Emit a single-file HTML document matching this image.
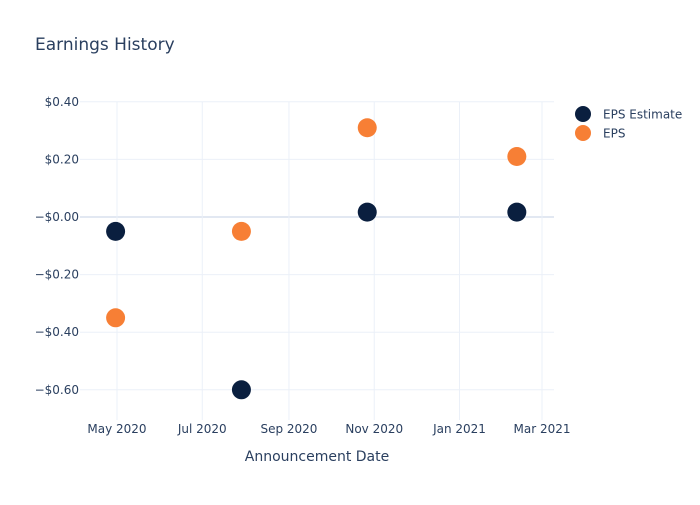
<!DOCTYPE html>
<html><head><meta charset="utf-8"><style>
body{margin:0;background:#fff;font-family:"Liberation Sans","DejaVu Sans",sans-serif;}
svg text{font-family:"DejaVu Sans","Liberation Sans",sans-serif;}
</style></head><body>
<svg id="chart" width="700" height="500">
<text x="35" y="50" font-size="17" fill="#2a3f5f">Earnings History</text>
<g id="grid"></g><g id="marks"></g>
<text x="317" y="461" font-size="14" fill="#2a3f5f" text-anchor="middle">Announcement Date</text>
<g>
<circle cx="583" cy="114" r="8" fill="#0a1f3f"/>
<text x="603" y="118.5" font-size="12" fill="#2a3f5f">EPS Estimate</text>
<circle cx="583" cy="133" r="8" fill="#f77f35"/>
<text x="603" y="137.5" font-size="12" fill="#2a3f5f">EPS</text>
</g>
</svg>
<script>
const dates=["2020-04-30","2020-07-29","2020-10-27","2021-02-11"];
const epsEstimate=[-0.05,-0.60,0.017,0.017];
const eps=[-0.35,-0.05,0.31,0.21];
const yTicks=[0.4,0.2,0,-0.2,-0.4,-0.6];
const yTickLabels=["$0.40","$0.20","−$0.00","−$0.20","−$0.40","−$0.60"];
const xTicks=["2020-05-01","2020-07-01","2020-09-01","2020-11-01","2021-01-01","2021-03-01"];
const xTickLabels=["May 2020","Jul 2020","Sep 2020","Nov 2020","Jan 2021","Mar 2021"];

const NS="http://www.w3.org/2000/svg";
const L=80,R=554,T=102,B=420;
const d0=Date.parse("2020-05-01"),d1=Date.parse("2021-03-01");
function xs(d){return 117+(Date.parse(d)-d0)/(d1-d0)*(542-117);}
function ys(v){return 217-v*288;}
function mk(tag,attrs,parent){const e=document.createElementNS(NS,tag);for(const k in attrs)e.setAttribute(k,attrs[k]);parent.appendChild(e);return e;}
const grid=document.getElementById('grid'),marks=document.getElementById('marks');
yTicks.forEach((v,i)=>{
 const g=mk('line',{x1:L,x2:R,y1:ys(v),y2:ys(v),stroke:v===0?'#e2e8f2':'#ebf0f8','stroke-width':v===0?2:1},grid);
 
 
 const t=mk('text',{x:L-1,y:ys(v)+4,'font-size':12,fill:'#2a3f5f','text-anchor':'end'},grid);
 t.textContent=yTickLabels[i];
 
 
});
xTicks.forEach((d,i)=>{
 const g=mk('line',{x1:xs(d),x2:xs(d),y1:T,y2:B,stroke:'#ebf0f8'},grid);
 
 
 const t=mk('text',{x:xs(d),y:B+13,'font-size':12,fill:'#2a3f5f','text-anchor':'middle'},grid);
 t.textContent=xTickLabels[i];
 
 
});
dates.forEach((d,i)=>{
 const c=mk('circle',{cx:xs(d),cy:ys(epsEstimate[i]),r:9.5,fill:'#0a1f3f'},marks);
 
 
});
dates.forEach((d,i)=>{
 const c=mk('circle',{cx:xs(d),cy:ys(eps[i]),r:9.5,fill:'#f77f35'},marks);
 
 
});
</script>
</body></html>
